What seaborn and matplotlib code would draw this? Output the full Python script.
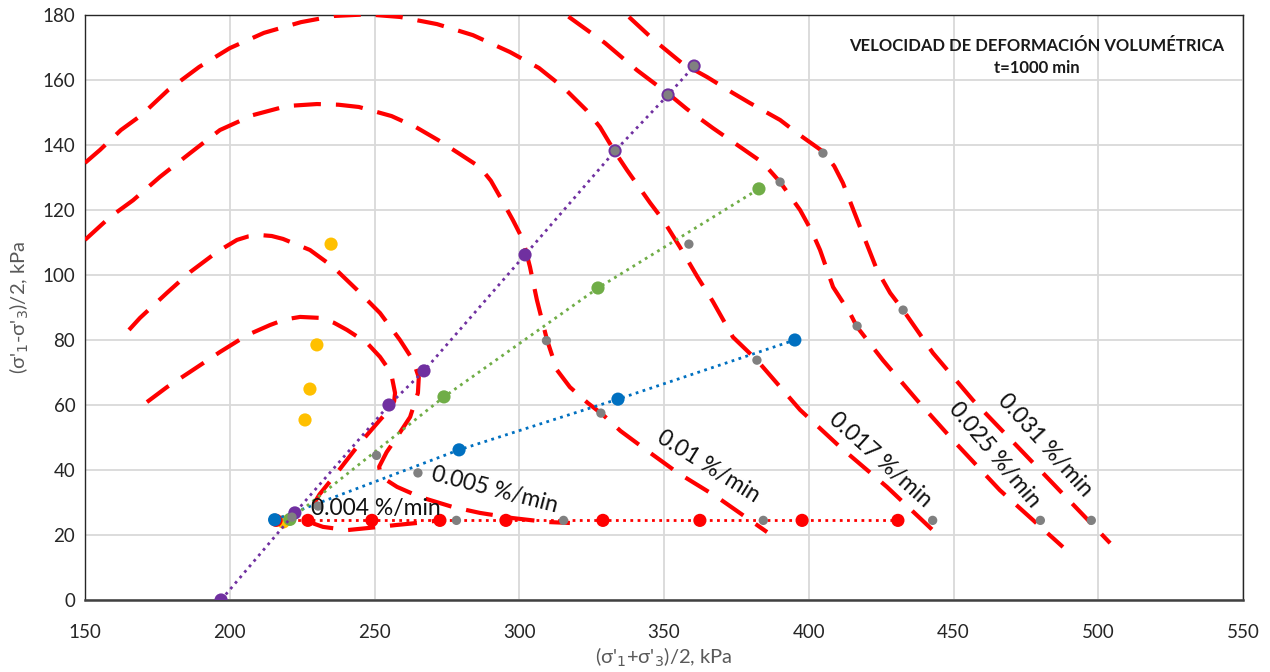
import matplotlib
matplotlib.use("Agg")
import matplotlib.pyplot as plt
import numpy as np
import pandas as pd
import seaborn as sns

# ---------------- data ----------------
# stress paths (p', q)
purple_x = [197.0, 222.5, 255.0, 267.1, 302.0, 333.1, 351.4, 360.4]
purple_y = [0.0, 26.8, 60.0, 70.5, 106.2, 138.2, 155.4, 164.3]

green_x = [220.8, 274.0, 327.2, 382.8]
green_y = [24.8, 62.5, 96.0, 126.5]

blue_x = [215.5, 279.2, 334.1, 395.2]
blue_y = [24.7, 46.2, 61.8, 80.0]

red_x = [216.0, 227.0, 249.1, 272.6, 295.4, 328.9, 362.4, 397.7, 430.8]
red_y = [24.5, 24.5, 24.5, 24.5, 24.5, 24.5, 24.5, 24.5, 24.5]

yellow_x = [218.5, 226.0, 227.7, 230.1, 235.0]
yellow_y = [24.0, 55.4, 64.9, 78.5, 109.5]

gray_x = [221.5, 230.5, 250.7, 265.0, 278.3, 309.4, 315.3, 328.2, 333.1, 351.4,
          358.6, 360.4, 382.1, 384.3, 390.1, 404.9, 416.7, 432.6, 442.8, 480.0, 497.6]
gray_y = [25.5, 28.9, 44.5, 39.1, 24.5, 79.8, 24.5, 57.5, 138.2, 155.4,
          109.5, 164.3, 73.8, 24.5, 128.6, 137.5, 84.3, 89.2, 24.5, 24.5, 24.5]

# volumetric strain-rate contours
c0004_x = [171.4, 178.3, 186.3, 196.6, 206.0, 213.9, 219.0, 224.3, 231.2, 236.0, 240.5, 247.4,
           251.9, 254.5, 256.0, 257.1, 256.8, 255.5, 251.9, 245.0, 237.0, 231.0, 228.0, 227.6,
           229.0, 232.2, 240.5, 248.4, 257.8, 268.1, 273.0]
c0004_y = [60.9, 65.5, 70.2, 76.3, 81.5, 84.6, 86.3, 87.1, 86.8, 85.3, 83.1, 79.1,
           74.8, 71.5, 68.6, 63.7, 61.2, 59.0, 55.4, 48.3, 39.1, 32.5, 28.0, 25.5,
           23.5, 22.5, 21.5, 22.2, 23.1, 24.0, 24.6]

c0005_x = [165.2, 169.0, 178.3, 186.3, 195.6, 202.5, 206.5, 210.4, 214.5, 218.4, 227.7, 235.7,
           244.0, 251.9, 258.8, 263.3, 265.3, 265.0, 262.3, 257.8, 254.2, 251.6, 252.2, 257.8,
           265.7, 277.1, 286.4, 297.8, 309.6, 317.5]
c0005_y = [83.1, 86.8, 94.5, 100.9, 107.1, 110.8, 111.9, 112.3, 112.0, 111.1, 107.7, 102.5,
           95.4, 88.3, 80.0, 73.8, 68.5, 63.7, 56.3, 50.2, 45.5, 41.0, 38.0, 34.8,
           31.7, 28.6, 26.8, 25.2, 24.0, 23.7]

c001_x = [150.0, 158.6, 166.6, 175.9, 186.3, 196.6, 208.0, 219.8, 230.1, 237.5, 244.6, 255.9,
          264.3, 272.0, 279.0, 286.4, 290.2, 293.4, 297.8, 301.3, 303.7, 306.1, 309.6, 313.0,
          317.5, 323.7, 328.9, 335.0, 343.8, 354.8, 368.3, 385.6]
c001_y = [110.8, 117.8, 123.0, 130.2, 137.5, 144.6, 149.2, 152.0, 152.6, 152.4, 151.7, 148.9,
          145.5, 141.5, 137.5, 133.2, 129.0, 124.0, 116.9, 110.8, 102.5, 92.3, 80.0, 70.8,
          65.5, 60.6, 57.0, 52.0, 46.2, 39.1, 31.7, 20.9]

c0017_x = [150.0, 155.2, 162.4, 169.5, 178.7, 189.4, 200.0, 211.8, 224.6, 236.0, 247.4, 258.8,
           271.6, 284.0, 296.8, 306.8, 315.5, 323.1, 327.9, 333.1, 337.2, 345.2, 349.7, 355.5,
           361.5, 366.9, 373.8, 382.1, 397.0, 410.8, 427.0, 445.3]
c0017_y = [134.5, 138.5, 144.6, 149.2, 156.9, 164.0, 169.8, 174.5, 177.8, 179.7, 180.2, 179.4,
           177.2, 173.8, 168.6, 163.7, 157.5, 150.8, 145.5, 137.8, 132.3, 122.2, 116.9, 108.6,
           99.5, 91.8, 80.9, 73.8, 58.5, 47.1, 34.8, 19.4]

c0025_x = [317.0, 329.6, 340.7, 352.0, 358.0, 366.9, 376.3, 384.2, 390.1, 397.0, 401.0, 403.9,
           408.4, 414.2, 416.7, 425.6, 437.4, 449.8, 466.0, 487.8]
c0025_y = [179.5, 171.4, 163.0, 155.4, 151.0, 145.2, 139.4, 134.5, 128.6, 120.0, 113.5, 107.7,
           96.3, 88.3, 84.0, 73.8, 61.5, 49.2, 33.8, 16.3]

c0031_x = [337.9, 346.5, 356.2, 364.9, 373.8, 379.7, 390.1, 397.0, 404.9, 408.8, 411.8, 417.7,
           423.6, 428.1, 432.6, 442.9, 456.7, 477.5, 504.1]
c0031_y = [179.4, 172.3, 165.2, 160.9, 156.0, 152.9, 147.7, 143.0, 138.0, 133.5, 128.3, 114.8,
           101.5, 94.5, 89.2, 76.0, 61.5, 42.2, 17.5]

contour_labels = ["0.004 %/min", "0.005 %/min", "0.01 %/min", "0.017 %/min", "0.025 %/min", "0.031 %/min"]
label_x = [250.5, 291.6, 365.2, 424.6, 464.3, 481.6]
label_y = [28.3, 33.8, 41.2, 43.1, 44.6, 47.7]
label_rot = [0, -14.5, -32, -42, -50, -48]

x_ticks = [150, 200, 250, 300, 350, 400, 450, 500, 550]
y_ticks = [0, 20, 40, 60, 80, 100, 120, 140, 160, 180]

title_text = "VELOCIDAD DE DEFORMACIÓN VOLUMÉTRICA\nt=1000 min"
x_label = "(σ'$_1$+σ'$_3$)/2, kPa"
y_label = "(σ'$_1$-σ'$_3$)/2, kPa"

# ---------------- plot ----------------
sns.set_theme(style="white")
plt.rcParams['font.family'] = ['Lato', 'DejaVu Sans']
plt.rcParams['mathtext.fontset'] = 'dejavusans'

fig = plt.figure(figsize=(12.7, 6.72), dpi=100)
ax = fig.add_axes([85 / 1270, 72 / 672, 1158 / 1270, 585 / 672])

RED = "#FF0000"
dash = (0, (6.5, 3.6))
curves = [(c0004_x, c0004_y), (c0005_x, c0005_y), (c001_x, c001_y),
          (c0017_x, c0017_y), (c0025_x, c0025_y), (c0031_x, c0031_y)]
for cx, cy in curves:
    sns.lineplot(x=cx, y=cy, sort=False, estimator=None, color=RED, lw=3.0,
                 linestyle=dash, ax=ax, zorder=3, legend=False)

dot = (0, (1, 1.6))
paths = [(red_x, red_y, "#FF0000", 4.0), (blue_x, blue_y, "#0070C0", 4.4),
         (green_x, green_y, "#70AD47", 4.6), (purple_x, purple_y, "#7030A0", 4.8)]
sns.scatterplot(x=yellow_x, y=yellow_y, color="#FFC000", s=90, edgecolor="none", ax=ax,
                zorder=4.1, legend=False)
for px, py, col, z in paths:
    sns.lineplot(x=px, y=py, sort=False, estimator=None, color=col, lw=2.0,
                 linestyle=dot, ax=ax, zorder=z, legend=False)
    sns.scatterplot(x=px, y=py, color=col, s=90, edgecolor="none", ax=ax, zorder=z + 0.1,
                    legend=False)

sns.scatterplot(x=gray_x, y=gray_y, color="#808080", s=45, edgecolor="none", ax=ax, zorder=6,
                legend=False)

for t, lx, ly, r in zip(contour_labels, label_x, label_y, label_rot):
    ax.text(lx, ly, t, fontsize=16.5, rotation=r, rotation_mode="anchor",
            ha="center", va="center", color="#111111", zorder=7)

ax.text(478.8, 167.0, title_text, fontsize=12, fontweight="bold", ha="center", va="center",
        linespacing=1.45, color="#1a1a1a", zorder=7)

ax.set_xlim(150, 550)
ax.set_ylim(0, 180)
ax.set_xticks(x_ticks)
ax.set_yticks(y_ticks)
ax.grid(True, color="#D9D9D9", lw=1.3)
ax.set_axisbelow(True)
ax.tick_params(axis="both", length=0, labelsize=13.5, colors="#262626")
ax.tick_params(axis="x", pad=17)
ax.tick_params(axis="y", pad=7)
for s in ["top", "right", "left"]:
    ax.spines[s].set_color("#262626")
    ax.spines[s].set_linewidth(1.0)
ax.spines["bottom"].set_color("#404040")
ax.spines["bottom"].set_linewidth(1.8)

ax.set_xlabel(x_label, fontsize=14.5, color="#595959", labelpad=4)
ax.set_ylabel(y_label, fontsize=14.5, color="#595959", labelpad=8)

fig.savefig("out.png", dpi=100)
